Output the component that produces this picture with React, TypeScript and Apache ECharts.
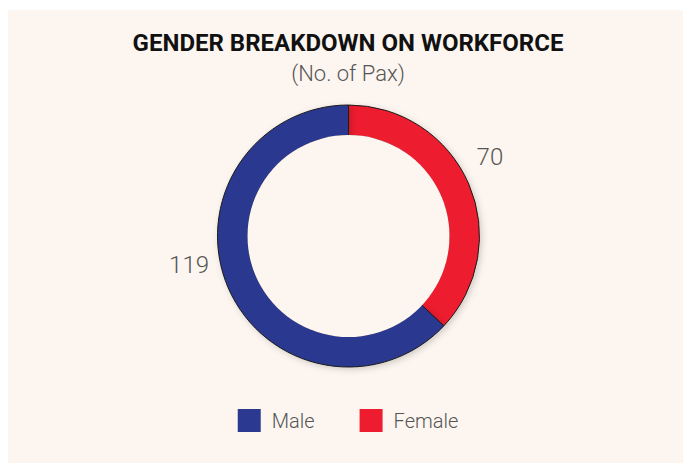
import React, { useEffect, useRef } from "react";
import * as echarts from "echarts";

const TITLE = "GENDER BREAKDOWN ON WORKFORCE";
const SUBTITLE = "(No. of Pax)";
const categories = ["Female", "Male"];
const values = [70, 119];
const colors = ["#ed1c2e", "#2b3990"];
const legendOrder = ["Male", "Female"];
// label placement (polar, degrees counter-clockwise from 3 o'clock)
const labelAngles = [29.2, 190.2];
const labelRadius = 162;

const BG = "#fdf6f0";

export default function App() {
  const ref = useRef<HTMLDivElement>(null);
  useEffect(() => {
    if (!ref.current) return;
    const chart = echarts.init(ref.current, undefined, { renderer: "svg" });
    const cx = 340.5;
    const cy = 226;
    chart.setOption({
      animation: false,
      backgroundColor: BG,
      title: [
        {
          text: TITLE,
          left: "center",
          top: 21,
          padding: 0,
          textStyle: { fontFamily: "Roboto", fontWeight: 700, fontSize: 24, color: "#111" },
        },
        {
          text: SUBTITLE,
          left: "center",
          top: 52,
          padding: 0,
          textStyle: { fontFamily: "Roboto", fontWeight: 300, fontSize: 22, color: "#555" },
        },
      ],
      legend: {
        data: legendOrder,
        left: "center",
        top: 399,
        padding: 0,
        itemWidth: 23,
        itemHeight: 23,
        itemGap: 45,
        icon: "rect",
        itemStyle: { borderWidth: 0, shadowBlur: 0, shadowOffsetX: 0, shadowOffsetY: 0 },
        textStyle: {
          fontFamily: "Roboto",
          fontWeight: 300,
          fontSize: 20,
          color: "#555",
          padding: [0, 0, 0, 6],
        },
      },
      series: [
        {
          type: "pie",
          center: [cx, cy],
          radius: [100.5, 131],
          startAngle: 90,
          clockwise: true,
          data: categories.map((c, i) => ({ name: c, value: values[i], itemStyle: { color: colors[i] } })),
          itemStyle: {
            borderColor: "#1a1a1a",
            borderWidth: 1,
            shadowColor: "rgba(0,0,0,0.18)",
            shadowBlur: 6,
            shadowOffsetX: 2,
            shadowOffsetY: 2,
          },
          label: {
            show: true,
            position: "outside",
            formatter: "{c}",
            fontFamily: "Roboto",
            fontWeight: 300,
            fontSize: 24,
            color: "#555",
          },
          labelLine: { show: false },
          labelLayout: (params: any) => {
            const a = (labelAngles[params.dataIndex] * Math.PI) / 180;
            return {
              x: cx + labelRadius * Math.cos(a),
              y: cy - labelRadius * Math.sin(a),
              align: "center",
              verticalAlign: "middle",
            };
          },
          emphasis: { disabled: true },
          z: 2,
        },
        {
          type: "pie",
          center: [cx, cy],
          radius: [0, 101],
          silent: true,
          z: 3,
          label: { show: false },
          labelLine: { show: false },
          data: [{ name: "_cover", value: 1, itemStyle: { color: BG } }],
          emphasis: { disabled: true },
          tooltip: { show: false },
        },
      ],
    });
    return () => chart.dispose();
  }, []);
  return (
    <div style={{ paddingTop: 2 }}>
      <div ref={ref} style={{ width: 680, height: 453 }} />
    </div>
  );
}
